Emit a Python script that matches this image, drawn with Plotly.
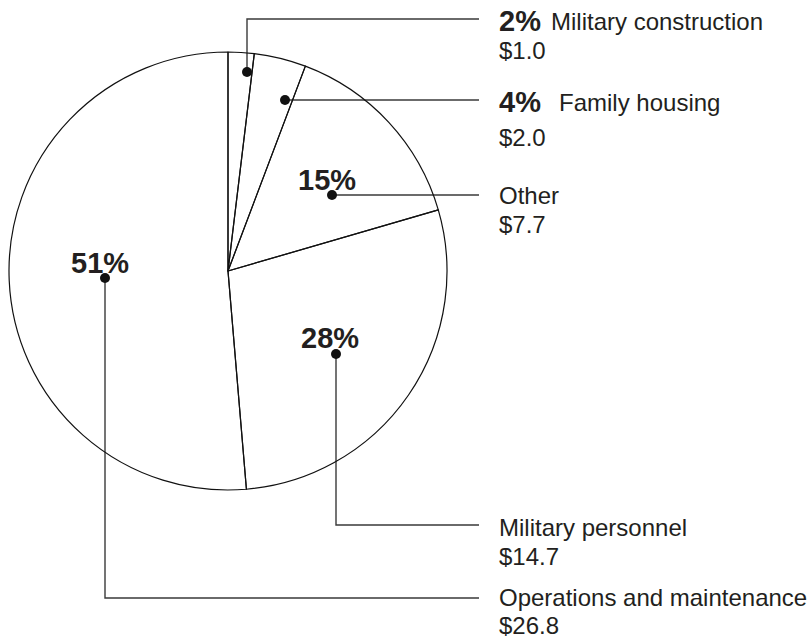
import plotly.graph_objects as go

# ---- data ----
categories = ["Military construction", "Family housing", "Other",
              "Military personnel", "Operations and maintenance"]
values = [1.0, 2.0, 7.7, 14.7, 26.8]          # $ billions
pct_labels = ["2%", "4%", "15%", "28%", "51%"]
amount_labels = ["$1.0", "$2.0", "$7.7", "$14.7", "$26.8"]

W, H = 810, 640
FONT = "Liberation Sans, Arial, Helvetica, sans-serif"
TXT = "#231f20"
LINE = "#3a3a3a"

fig = go.Figure()

# leader lines (pixel layout of the callouts)
line_end = 479
leaders = [
    [(247, 72), (247, 19), (line_end, 19)],
    [(285, 100), (line_end, 100)],
    [(332, 195), (line_end, 195)],
    [(336, 354), (336, 525), (line_end, 525)],
    [(105, 278), (105, 598), (line_end, 598)],
]
for pts in leaders:
    fig.add_trace(go.Scatter(
        x=[p[0] for p in pts], y=[p[1] for p in pts], mode="lines",
        line=dict(color=LINE, width=1.4), hoverinfo="skip", showlegend=False))
fig.add_trace(go.Scatter(
    x=[pts[0][0] for pts in leaders], y=[pts[0][1] for pts in leaders],
    mode="markers", marker=dict(size=10, color="#111"),
    hoverinfo="skip", showlegend=False))

# pie (transparent fill on a white page so the callouts show through)
cx0, cx1, cy0, cy1 = 9, 447, 52, 490
fig.add_trace(go.Pie(
    labels=categories, values=values, sort=False,
    direction="clockwise", rotation=0,
    marker=dict(colors=["rgba(255,255,255,0)"] * len(values),
                line=dict(color="#111", width=1.2)),
    textinfo="none", hoverinfo="label+value", showlegend=False,
    domain=dict(x=[cx0 / W, cx1 / W], y=[1 - cy1 / H, 1 - cy0 / H]),
))

ann = []
def add(text, x, y, size, bold=False, anchor="left"):
    ann.append(dict(
        text=f"<b>{text}</b>" if bold else text, x=x, y=y, xref="x", yref="y",
        xanchor=anchor, yanchor="middle", showarrow=False,
        font=dict(family=FONT, size=size, color=TXT)))

LX = 497
LS = 24
PS = 29
add(pct_labels[0], LX, 21, PS, bold=True)
add(categories[0], 549, 21, LS)
add(amount_labels[0], LX, 50.5, LS)
add(pct_labels[1], LX, 102, PS, bold=True)
add(categories[1], 557, 102, LS)
add(amount_labels[1], LX, 137.5, LS)
add(categories[2], LX, 195.5, LS)
add(amount_labels[2], LX, 224.5, LS)
add(categories[3], LX, 527.5, LS)
add(amount_labels[3], LX, 556, LS)
add(categories[4], LX, 597.5, LS)
add(amount_labels[4], LX, 625, LS)
add(pct_labels[2], 327, 180, PS, bold=True, anchor="center")
add(pct_labels[3], 330, 338, PS, bold=True, anchor="center")
add(pct_labels[4], 100, 263, PS, bold=True, anchor="center")

fig.update_layout(
    width=W, height=H, margin=dict(l=0, r=0, t=0, b=0),
    paper_bgcolor="white", plot_bgcolor="rgba(0,0,0,0)",
    xaxis=dict(range=[0, W], visible=False, fixedrange=True),
    yaxis=dict(range=[H, 0], visible=False, fixedrange=True),
    annotations=ann,
)
fig.write_html("out.html", config={"displayModeBar": False},
               post_script="document.body.style.margin='0';document.body.style.overflow='hidden';")
